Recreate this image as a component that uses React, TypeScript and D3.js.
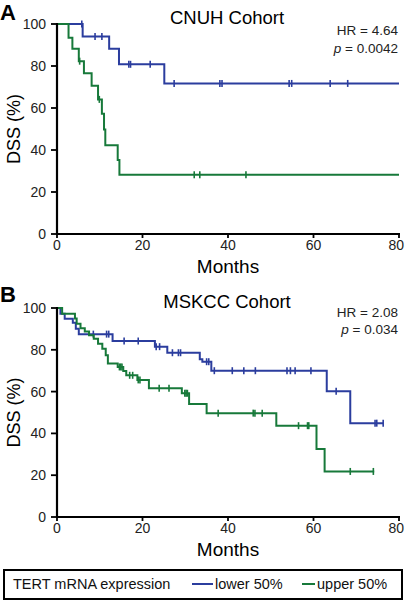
import React from "react";
import * as d3 from "d3";

const monthTicks = [0, 20, 40, 60, 80];
const dssTicks = [0, 20, 40, 60, 80, 100];

const cnuhLowerT = [0, 6.0, 12.2, 14.5, 25.1, 80];
const cnuhLowerS = [100, 94.1, 88.2, 80.8, 71.7, 71.7];
const cnuhLowerCens = [5.8, 8.9, 10.5, 16.8, 17.2, 21.8, 27.4, 38.1, 38.6, 54.3, 54.9, 63.9, 68.0];

const cnuhUpperT = [0, 2.7, 3.6, 5.1, 6.3, 8.1, 9.6, 10.5, 11.0, 11.3, 14.2, 14.6, 80];
const cnuhUpperS = [100, 93.5, 88.2, 82.3, 76.5, 70.6, 64.1, 57.3, 49.8, 42.3, 35.2, 28.2, 28.2];
const cnuhUpperCens = [5.3, 9.9, 32.1, 33.4, 44.2];

const mskLowerT = [0, 0.8, 1.8, 3.7, 4.4, 5.1, 13.0, 22.9, 25.8, 33.4, 34.0, 36.1, 63.1, 68.6, 76.3];
const mskLowerS = [100, 97.3, 94.9, 93.0, 90.1, 87.5, 84.2, 81.5, 78.6, 75.5, 74.3, 70.0, 60.2, 44.9, 44.9];
const mskLowerCens = [8.5, 11.6, 12.1, 15.7, 19.0, 23.2, 24.0, 27.0, 28.4, 28.9, 35.0, 35.5, 36.8, 41.0, 43.7, 46.4, 53.8, 54.6, 55.7, 59.4, 65.3, 74.4, 74.8, 76.3];

const mskUpperT = [0, 1.2, 4.2, 4.6, 5.5, 6.5, 7.5, 8.6, 9.6, 10.6, 11.4, 11.9, 14.2, 15.5, 16.2, 18.8, 21.5, 29.2, 30.9, 35.0, 51.3, 60.7, 62.6, 74.2];
const mskUpperS = [100, 97.3, 95.0, 92.5, 90.3, 88.8, 87.0, 85.3, 82.9, 80.5, 77.4, 73.4, 71.8, 69.8, 67.8, 65.6, 61.6, 59.2, 54.1, 49.7, 43.7, 32.5, 21.8, 21.8];
const mskUpperCens = [14.6, 14.9, 15.2, 17.0, 17.7, 19.0, 19.4, 23.9, 26.2, 29.9, 30.2, 30.5, 37.7, 45.9, 46.3, 48.0, 56.5, 58.6, 58.9, 68.6, 74.0];

const BLUE = "#2b3d9e";
const GREEN = "#17793a";
const FONT = "'Liberation Sans', Arial, Helvetica, sans-serif";

type Series = { t: number[]; s: number[]; cens: number[]; color: string };

function stepValue(t: number[], s: number[], x: number) {
  let v = s[0];
  for (let i = 0; i < t.length; i++) if (t[i] <= x) v = s[i];
  return v;
}

function Panel(props: {
  top: number;
  bottom: number;
  letter: string;
  letterY: number;
  title: string;
  titleY: number;
  hr: string;
  pval: string;
  hrY: number;
  pY: number;
  series: Series[];
}) {
  const x = d3.scaleLinear().domain([0, 80]).range([57, 399]);
  const y = d3.scaleLinear().domain([0, 100]).range([props.bottom, props.top]);
  const line = d3
    .line<[number, number]>()
    .x((d) => x(d[0]))
    .y((d) => y(d[1]))
    .curve(d3.curveStepAfter);
  return (
    <g>
      <text x={0} y={props.letterY} fontFamily={FONT} fontWeight="bold" fontSize={22}>
        {props.letter}
      </text>
      <text x={227} y={props.titleY} textAnchor="middle" fontFamily={FONT} fontSize={18.5}>
        {props.title}
      </text>
      <text x={398} y={props.hrY} textAnchor="end" fontFamily={FONT} fontSize={13.5} fill="#222">
        {props.hr}
      </text>
      <text x={398} y={props.pY} textAnchor="end" fontFamily={FONT} fontSize={13.5} fill="#222">
        <tspan fontStyle="italic">p</tspan>
        {" = " + props.pval}
      </text>
      {props.series.map((se, i) => (
        <g key={i}>
          <path
            d={line(se.t.map((t, j) => [t, se.s[j]] as [number, number])) || ""}
            fill="none"
            stroke={se.color}
            strokeWidth={2}
          />
          {se.cens.map((c, j) => {
            const v = stepValue(se.t, se.s, c);
            return (
              <line
                key={j}
                x1={x(c)}
                x2={x(c)}
                y1={y(v) - 3.5}
                y2={y(v) + 3.5}
                stroke={se.color}
                strokeWidth={1.6}
              />
            );
          })}
        </g>
      ))}
      <line x1={x(0)} x2={x(0)} y1={y(100) - 1} y2={y(0) + 1} stroke="#000" strokeWidth={2.2} />
      <line x1={x(0) - 1} x2={x(80) + 1} y1={y(0)} y2={y(0)} stroke="#000" strokeWidth={2.2} />
      {dssTicks.map((v) => (
        <g key={v}>
          <line x1={x(0) - 6} x2={x(0)} y1={y(v)} y2={y(v)} stroke="#000" strokeWidth={1.8} />
          <text x={46} y={y(v) + 5} textAnchor="end" fontFamily={FONT} fontSize={14} fill="#222">
            {v}
          </text>
        </g>
      ))}
      {monthTicks.map((m, i) => {
        const last = i === monthTicks.length - 1;
        return (
          <g key={m}>
            <line x1={x(m)} x2={x(m)} y1={y(0)} y2={y(0) + 4} stroke="#000" strokeWidth={1.8} />
            <text
              x={last ? 404 : x(m)}
              y={y(0) + 16}
              textAnchor={last ? "end" : "middle"}
              fontFamily={FONT}
              fontSize={14}
              fill="#222"
            >
              {m}
            </text>
          </g>
        );
      })}
      <text x={228} y={y(0) + 39} textAnchor="middle" fontFamily={FONT} fontSize={19}>
        Months
      </text>
      <text
        transform={`translate(20,${(y(0) + y(100)) / 2}) rotate(-90)`}
        textAnchor="middle"
        fontFamily={FONT}
        fontSize={18}
      >
        DSS (%)
      </text>
    </g>
  );
}

export default function App() {
  return (
    <svg
      width={405}
      height={600}
      style={{ position: "absolute", left: 0, top: 0, display: "block", background: "#fff" }}
    >
      <rect width={405} height={600} fill="#fff" />
      <Panel
        top={24}
        bottom={234}
        letter="A"
        letterY={20}
        title="CNUH Cohort"
        titleY={24}
        hr="HR = 4.64"
        pval="0.0042"
        hrY={35}
        pY={53}
        series={[
          { t: cnuhLowerT, s: cnuhLowerS, cens: cnuhLowerCens, color: BLUE },
          { t: cnuhUpperT, s: cnuhUpperS, cens: cnuhUpperCens, color: GREEN },
        ]}
      />
      <Panel
        top={308}
        bottom={517}
        letter="B"
        letterY={302}
        title="MSKCC Cohort"
        titleY={308}
        hr="HR = 2.08"
        pval="0.034"
        hrY={317}
        pY={334}
        series={[
          { t: mskLowerT, s: mskLowerS, cens: mskLowerCens, color: BLUE },
          { t: mskUpperT, s: mskUpperS, cens: mskUpperCens, color: GREEN },
        ]}
      />
      <rect x={4} y={570} width={398} height={29} fill="none" stroke="#000" strokeWidth={2} />
      <text x={13} y={589} fontFamily={FONT} fontSize={14.5} fill="#111">
        TERT mRNA expression
      </text>
      <line x1={192} x2={213} y1={584} y2={584} stroke={BLUE} strokeWidth={2} />
      <text x={215} y={589} fontFamily={FONT} fontSize={14.5} fill="#111">
        lower 50%
      </text>
      <line x1={302} x2={315} y1={584} y2={584} stroke={GREEN} strokeWidth={2} />
      <text x={317} y={589} fontFamily={FONT} fontSize={14.5} fill="#111">
        upper 50%
      </text>
    </svg>
  );
}
